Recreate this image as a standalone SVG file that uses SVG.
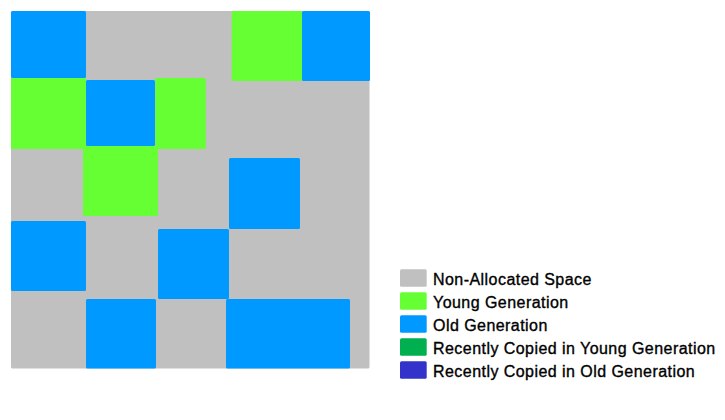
<svg xmlns="http://www.w3.org/2000/svg" width="725" height="420" viewBox="0 0 725 420">
<style>
.g{fill:#C0C0C0}.y{fill:#66FF33}.o{fill:#0099FF}.ry{fill:#00B050}.ro{fill:#3333CC}
text{font-family:"Liberation Sans",Arial,sans-serif;font-size:16px;letter-spacing:0.45px;fill:#000;stroke:#000;stroke-width:0.35px}
</style>
<rect width="725" height="420" fill="#fff"/>
<g id="heap">
<rect class="g" x="11" y="11" width="358.5" height="357.5" rx="1.5"/>
<rect class="o" x="11" y="11" width="75" height="67" rx="1.5"/>
<rect class="y" x="231.7" y="11" width="70.3" height="70" rx="1.5"/>
<rect class="o" x="302" y="11" width="68" height="70" rx="1.5"/>
<rect class="y" x="11" y="78" width="75" height="71" rx="1.5"/>
<rect class="y" x="83" y="146" width="75" height="70" rx="1.5"/>
<rect class="o" x="86" y="80" width="69" height="66" rx="1.5"/>
<rect class="y" x="155.3" y="78" width="50.5" height="71" rx="1.5"/>
<rect class="o" x="229" y="158" width="71" height="71" rx="1.5"/>
<rect class="o" x="11" y="221" width="75" height="70" rx="1.5"/>
<rect class="o" x="158" y="229" width="71" height="70" rx="1.5"/>
<rect class="o" x="86" y="299" width="70" height="69.5" rx="1.5"/>
<rect class="o" x="226" y="299" width="124" height="69.5" rx="1.5"/>
</g>
<g id="legend">
<rect class="g" x="400" y="269.3" width="26.7" height="17.5" rx="1.5"/>
<text x="433" y="285">Non-Allocated Space</text>
<rect class="y" x="400" y="292.3" width="26.7" height="17.5" rx="1.5"/>
<text x="433" y="308">Young Generation</text>
<rect class="o" x="400" y="315.3" width="26.7" height="17.5" rx="1.5"/>
<text x="433" y="331">Old Generation</text>
<rect class="ry" x="400" y="338.3" width="26.7" height="17.5" rx="1.5"/>
<text x="433" y="354">Recently Copied in Young Generation</text>
<rect class="ro" x="400" y="361.3" width="26.7" height="17.5" rx="1.5"/>
<text x="433" y="377">Recently Copied in Old Generation</text>
</g>
</svg>
